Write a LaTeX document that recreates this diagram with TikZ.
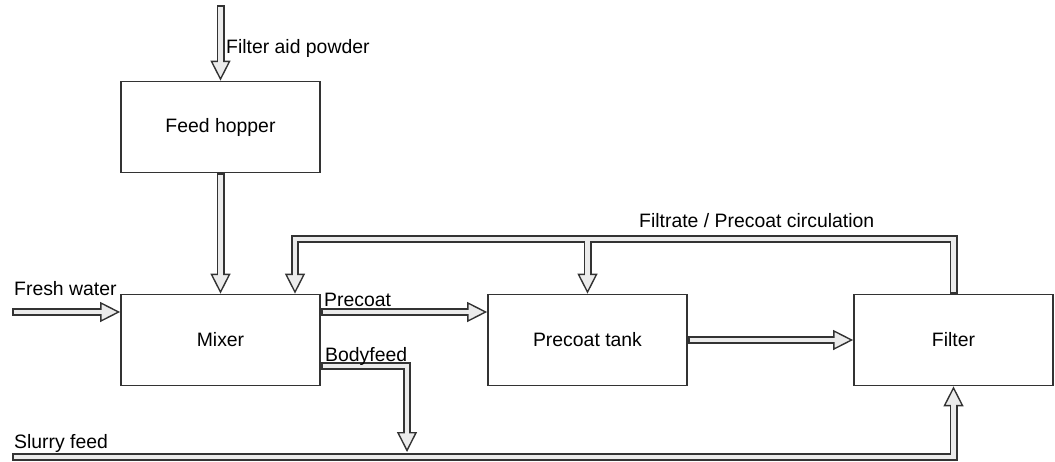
\documentclass[tikz,border=0pt]{standalone}
\usepackage{fontspec}
\setmainfont{Liberation Sans}
\usetikzlibrary{arrows.meta}
\begin{document}
\begin{tikzpicture}[x=1pt,y=-1pt,
  box/.style={draw=black!80, line width=1.7pt, fill=white, minimum width=199pt, minimum height=91pt, inner sep=0pt, font=\fontsize{19.4}{23}\selectfont},
  lbl/.style={anchor=base west, inner sep=0pt, font=\fontsize{19.4}{23}\selectfont},
  pipeo/.style={draw=black!80, line width=8pt, line join=miter},
  pipei/.style={draw=black!8, line width=4.2pt, line join=miter, shorten <=1.8pt},
  pipeip/.style={pipei, shorten >=17.5pt},
  tipped/.style={-{Triangle[length=20pt,width=20pt,line width=1.4pt,fill=black!8]}}
]
\useasboundingbox (0,0) rectangle (1055,461);

\node[box] (hopper) at (220.5,127) {Feed hopper};
\node[box] (mixer) at (220.5,340) {Mixer};
\node[box] (tank) at (587.5,340) {Precoat tank};
\node[box] (filter) at (953.5,340) {Filter};

\coordinate (fa) at (220.5,5);
\coordinate (fw) at (12,312);
\coordinate (bfend) at (407,452);
\coordinate (sf) at (12,457);
\coordinate (rl) at (295,239);
\coordinate (rj) at (tank.north |- rl);
\coordinate (pcs) at ([yshift=28pt]mixer.east);
\coordinate (bfs) at ([yshift=-26pt]mixer.east);

% outer passes
\draw[pipeo,tipped] (fa) -- (hopper.north);
\draw[pipeo,tipped] (hopper.south) -- (mixer.north);
\draw[pipeo,tipped] (fw) -- (fw -| mixer.west);
\draw[pipeo,tipped] (pcs) -- (pcs -| tank.west);
\draw[pipeo,tipped] (bfs) -| (bfend);
\draw[pipeo,tipped] (tank.east) -- (filter.west);
\draw[pipeo,tipped] (sf) -| (filter.south);
\draw[pipeo,tipped] (filter.north) |- (rl) -- (rl |- mixer.north);
\draw[pipeo,tipped] (rj) -- (tank.north);

% inner passes
\draw[pipeip] (fa) -- (hopper.north);
\draw[pipeip] (hopper.south) -- (mixer.north);
\draw[pipeip] (fw) -- (fw -| mixer.west);
\draw[pipeip] (pcs) -- (pcs -| tank.west);
\draw[pipeip] (bfs) -| (bfend);
\draw[pipeip] (tank.east) -- (filter.west);
\draw[pipeip] (sf) -| (filter.south);
\draw[pipeip] (filter.north) |- (rl) -- (rl |- mixer.north);
\draw[pipeip, shorten <=0pt] (rj) -- (tank.north);

% labels
\node[lbl] (l1) at (226,53) {Filter aid powder};
\node[lbl] (l2) at (14,295) {Fresh water};
\node[lbl] (l3) at (324,306) {Precoat};
\node[lbl] (l4) at (325,361) {Bodyfeed};
\node[lbl] (l5) at (14,448) {Slurry feed};
\node[lbl] (l6) at (639,227) {Filtrate / Precoat circulation};
\end{tikzpicture}
\end{document}
